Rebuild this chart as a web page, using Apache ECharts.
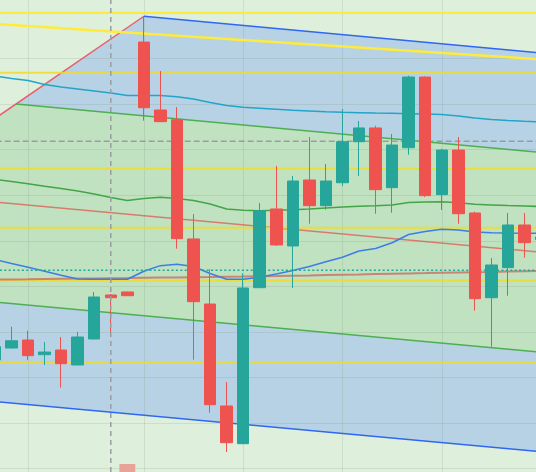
<!DOCTYPE html>
<html>
<head>
<meta charset="utf-8">
<script src="https://cdn.jsdelivr.net/npm/echarts@6/dist/echarts.min.js"></script>
<style>html,body{margin:0;padding:0;background:#def0dc}#c{width:536px;height:472px}</style>
</head>
<body>
<div id="c"></div>
<script>
// ---------- data ----------
const bars = ['1','2','3','4','5','6','7','8','9','10','11','12','13','14','15','16','17',
  '18','19','20','21','22','23','24','25','26','27','28','29','30','31','32','33','34'];
// [open, close, low, high]
const ohlc = [
  [86.89, 88.35, 86.67, 88.53],
  [88.20, 89.00, 88.15, 90.54],
  [89.08, 87.36, 86.89, 90.10],
  [87.47, 87.76, 86.34, 88.86],
  [87.98, 86.48, 83.85, 89.41],
  [86.34, 89.41, 86.30, 89.96],
  [89.19, 93.80, 89.15, 94.35],
  [94.02, 93.72, 89.52, 94.13],
  [94.35, 93.94, 93.91, 94.38],
  [121.78, 114.57, 113.15, 124.64],
  [114.32, 113.04, 113.00, 118.60],
  [113.26, 100.20, 99.10, 114.65],
  [100.17, 93.28, 86.92, 102.91],
  [93.03, 81.98, 81.10, 96.84],
  [81.84, 77.81, 76.79, 84.47],
  [77.70, 94.79, 77.65, 96.40],
  [94.82, 103.27, 94.80, 104.12],
  [103.46, 99.51, 99.40, 108.18],
  [99.40, 106.53, 94.79, 107.08],
  [106.64, 103.82, 101.84, 111.36],
  [103.82, 106.53, 103.38, 108.40],
  [106.34, 110.84, 105.98, 114.43],
  [110.84, 112.35, 107.08, 113.11],
  [112.35, 105.58, 102.94, 112.60],
  [105.80, 110.48, 103.05, 111.69],
  [110.18, 117.94, 109.42, 118.09],
  [117.94, 104.92, 104.77, 118.00],
  [105.03, 109.93, 103.35, 110.07],
  [109.93, 102.94, 101.84, 111.36],
  [103.02, 93.61, 92.30, 103.16],
  [93.72, 97.31, 88.35, 98.08],
  [97.02, 101.70, 93.94, 103.02],
  [101.70, 99.76, 98.11, 103.02],
  [100.11, 100.38, 100.00, 100.49]
];
const maCyan = [118.05,117.78,117.56,117.12,116.85,116.63,116.41,116.19,115.91,115.91,115.91,115.78,
  115.53,115.15,114.82,114.62,114.51,114.40,114.29,114.22,114.14,114.07,114.03,113.99,113.96,113.92,
  113.88,113.82,113.66,113.44,113.28,113.17,113.08,113.03];
const maGreen = [106.72,106.48,106.22,105.95,105.71,105.43,105.10,104.72,104.39,104.61,104.74,104.61,
  104.39,104.01,103.46,103.31,103.27,103.31,103.37,103.46,103.57,103.68,103.75,103.81,103.90,104.17,
  104.23,104.26,104.14,103.97,103.90,103.83,103.78,103.73];
const maBlue = [97.92,97.48,97.06,96.62,96.18,95.78,95.75,95.75,95.75,96.62,97.24,97.39,97.15,96.38,
  95.75,95.75,95.96,96.32,96.71,97.15,97.66,98.16,98.85,99.12,99.75,100.66,100.99,101.23,101.16,100.94,
  100.86,100.82,100.80,100.79];
const maSlow = [95.71,95.73,95.75,95.78,95.80,95.82,95.84,95.86,95.88,95.91,95.93,95.95,95.97,95.99,
  96.03,96.05,96.08,96.10,96.14,96.17,96.21,96.25,96.28,96.32,96.36,96.39,96.42,96.46,96.49,96.52,
  96.55,96.59,96.62,96.65];
// straight drawings: [barIndex, price] end points
const channelMid        = [[-0.5, 104.30], [33.5, 98.62]];
const channelUpperInner = [[1.27, 114.97], [33.5, 109.59]];
const channelLowerInner = [[-0.5, 93.33], [33.5, 87.65]];
const channelUpperOuter = [[9, 124.61], [33.5, 120.51]];
const channelLowerOuter = [[-0.5, 82.41], [33.5, 76.73]];
const anchorLine        = [[-0.5, 112.77], [9, 124.61]];
const slopedLevel       = [[-0.5, 123.82], [33.5, 119.83]];
const levels = [125.00, 118.42, 107.88, 101.39, 95.61, 86.59];
const lastPrice = 96.73;
const crossPrice = 110.89;
const crossBar = 7;
const markedBar = 8;
const priceTicks = [75, 80, 85, 90, 95, 100, 105, 110, 115, 120, 125];
const timeTicks = [2, 9, 15, 21, 27];

// ---------- chart ----------
const Y_MIN = 74.594, Y_MAX = 126.394;   // visible price window
const X_MIN = 0.305, X_MAX = 32.695;     // visible bar window
const E_MIN = -0.5, E_MAX = 33.5;        // drawing extension
const chart = echarts.init(document.getElementById('c'), null, {renderer: 'canvas'});

function seg(data, color, width, z, type) {
  return {type: 'line', xAxisIndex: 0, yAxisIndex: 0, data: data, symbol: 'none', silent: true,
    lineStyle: {color: color, width: width, type: type || 'solid'}, z: z, animation: false};
}
function ma(values, color, width, z) {
  return seg(values.map(function (v, i) { return [i, v]; }), color, width, z);
}

const series = [];
// fills + grid
series.push({
  type: 'custom', xAxisIndex: 0, yAxisIndex: 0, z: 1, silent: true, animation: false,
  data: [[1, 100]], encode: {x: 0, y: 1},
  renderItem: function (params, api) {
    if (params.dataIndex !== 0) return null;
    const P = function (p) { return api.coord(p); };
    const children = [];
    const blue = [anchorLine[0], anchorLine[1], channelUpperOuter[1], channelLowerOuter[1], channelLowerOuter[0]].map(P);
    const green = [anchorLine[0], channelUpperInner[0], channelUpperInner[1], channelLowerInner[1], channelLowerInner[0]].map(P);
    children.push({type: 'polygon', shape: {points: blue}, style: {fill: '#b7d2e4'}});
    children.push({type: 'polygon', shape: {points: green}, style: {fill: '#c0e2c1'}});
    priceTicks.forEach(function (t) {
      const a = P([E_MIN, t]), b = P([E_MAX, t]);
      children.push({type: 'line', shape: {x1: a[0], y1: Math.round(a[1]) + 0.5, x2: b[0], y2: Math.round(b[1]) + 0.5},
        style: {stroke: 'rgba(110,130,110,0.16)', lineWidth: 1}});
    });
    timeTicks.forEach(function (t) {
      const a = P([t, Y_MIN]), b = P([t, Y_MAX]);
      children.push({type: 'line', shape: {x1: Math.round(a[0]) + 0.5, y1: a[1], x2: Math.round(b[0]) + 0.5, y2: b[1]},
        style: {stroke: 'rgba(110,130,110,0.16)', lineWidth: 1}});
    });
    const r1 = P([markedBar - 0.48, Y_MIN + 0.88]), r2 = P([markedBar + 0.48, Y_MIN - 1]);
    children.push({type: 'rect', shape: {x: r1[0], y: r1[1], width: r2[0] - r1[0], height: r2[1] - r1[1]},
      style: {fill: '#e8a398'}});
    return {type: 'group', children: children};
  }
});
// channel drawings
series.push(seg(anchorLine, '#ec5d6e', 1.5, 3));
series.push(seg(channelUpperOuter, '#2f66f2', 1.5, 3));
series.push(seg(channelLowerOuter, '#2f66f2', 1.5, 3));
series.push(seg(channelUpperInner, '#4caf50', 1.5, 3));
series.push(seg(channelLowerInner, '#4caf50', 1.5, 3));
series.push(seg(channelMid, 'rgba(222,90,80,0.75)', 1.5, 3));
// yellow levels
series.push(seg(slopedLevel, '#ffeb3b', 2.5, 4));
levels.forEach(function (v, k) {
  series.push(seg([[E_MIN, v], [E_MAX, v]], k === 0 ? '#ffeb3b' : 'rgba(240,220,40,0.85)', 2, 4));
});
// moving averages
series.push(ma(maSlow, 'rgba(200,110,95,0.8)', 2, 5));
series.push(ma(maCyan, '#22a5c9', 1.5, 5));
series.push(ma(maGreen, '#43a547', 1.5, 5));
series.push(ma(maBlue, '#3c7de6', 1.5, 5));
// price line & crosshair horizontal
series.push(seg([[E_MIN, lastPrice], [E_MAX, lastPrice]], '#26a69a', 1.5, 6, [2, 2.4]));
series.push(seg([[E_MIN, crossPrice], [E_MAX, crossPrice]], '#9a9ca3', 1.5, 6, [6, 3]));
// candles
series.push({
  type: 'candlestick', xAxisIndex: 0, yAxisIndex: 0,
  data: ohlc.map(function (d, i) { return [i, d[0], d[1], d[2], d[3]]; }),
  encode: {x: 0, y: [1, 2, 3, 4]},
  barWidth: 12, z: 8, silent: true, animation: false,
  itemStyle: {color: '#26a69a', color0: '#ef5350', borderColor: '#26a69a', borderColor0: '#ef5350', borderWidth: 1}
});
// crosshair vertical
series.push(seg([[crossBar, Y_MIN - 1], [crossBar, Y_MAX + 1]], '#9a9ca3', 1.5, 9, [5, 4]));

chart.setOption({
  backgroundColor: '#def0dc',
  animation: false,
  grid: {left: 0, right: 0, top: 0, bottom: 0, containLabel: false},
  xAxis: [{type: 'value', min: X_MIN, max: X_MAX, show: false, splitLine: {show: false}}],
  yAxis: [{type: 'value', min: Y_MIN, max: Y_MAX, show: false, splitLine: {show: false}, scale: true}],
  series: series
});
</script>
</body>
</html>
